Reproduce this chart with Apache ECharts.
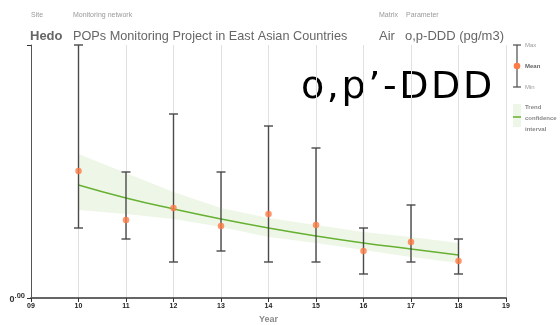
<!DOCTYPE html>
<html>
<head>
<meta charset="utf-8">
<script src="https://cdn.jsdelivr.net/npm/echarts@6/dist/echarts.min.js"></script>
<style>html,body{margin:0;padding:0;background:#fff}#c{width:560px;height:325px}</style>
</head>
<body>
<div id="c"></div>
<script>
var years = [10, 11, 12, 13, 14, 15, 16, 17, 18];
var meanVals = [1.27, 0.78, 0.90, 0.72, 0.84, 0.73, 0.47, 0.56, 0.37];
var minVals  = [0.70, 0.59, 0.36, 0.47, 0.36, 0.36, 0.24, 0.36, 0.24];
var maxVals  = [2.53, 1.26, 1.84, 1.26, 1.72, 1.50, 0.70, 0.93, 0.59];
var trendVals = [1.13, 1.00, 0.89, 0.79, 0.70, 0.62, 0.55, 0.49, 0.43];
var bandUpper = [1.44, 1.25, 1.06, 0.90, 0.80, 0.73, 0.66, 0.61, 0.55];
var bandLower = [0.88, 0.84, 0.79, 0.71, 0.61, 0.55, 0.48, 0.41, 0.35];
var xTickLabels = ['09','10','11','12','13','14','15','16','17','18','19'];

var chart = echarts.init(document.getElementById('c'), null, {renderer: 'canvas'});

var errData = years.map(function (y, i) { return [y, minVals[i], maxVals[i]]; });
var meanData = years.map(function (y, i) { return [y, meanVals[i]]; });
var trendData = years.map(function (y, i) { return [y, trendVals[i]]; });
var bandData = years.map(function (y, i) { return [y, bandLower[i], bandUpper[i]]; });

var bigChars = ['o', ',', 'p', '\u2019', '-', 'D', 'D', 'D'];
var bigText = bigChars.map(function (c, i) { return '{' + (i < bigChars.length - 1 ? 'a' : 'b') + '|' + c + '}'; }).join('');

var gray = '#555';
var option = {
  animation: false,
  grid: {left: 31, right: 54, top: 45, bottom: 27, containLabel: false, outerBoundsMode: 'none'},
  xAxis: {
    type: 'value', min: 9, max: 19, interval: 1,
    name: 'Year', nameLocation: 'middle', nameGap: 16,
    nameTextStyle: {color: '#8a8a8a', fontSize: 9, fontFamily: 'Liberation Sans', fontWeight: 'bold'},
    axisLine: {show: true, lineStyle: {color: '#666', width: 2}},
    axisTick: {show: true, length: 4, lineStyle: {color: '#333', width: 1}},
    axisLabel: {
      color: '#222', fontSize: 7, fontWeight: 'bold', fontFamily: 'Liberation Sans', margin: 5,
      formatter: function (v) { return xTickLabels[Math.round(v) - 9]; }
    },
    splitLine: {show: true, lineStyle: {color: '#e0e0e0', width: 1}}
  },
  yAxis: {
    type: 'value', min: 0, max: 2.53, interval: 2.53,
    axisLine: {show: true, lineStyle: {color: gray, width: 1}},
    axisTick: {show: true, length: 4, lineStyle: {color: '#333'}},
    splitLine: {show: false},
    axisLabel: {
      margin: 6,
      formatter: function (v) { return v === 0 ? '{a|0}{b|.00}' : ''; },
      rich: {
        a: {fontSize: 9, color: '#333', fontFamily: 'Liberation Sans', fontWeight: 'bold', verticalAlign: 'bottom'},
        b: {fontSize: 7.5, color: '#333', fontFamily: 'Liberation Sans', fontWeight: 'bold', padding: [0, 0, 4, 0]}
      }
    }
  },
  series: [
    {
      type: 'custom', data: bandData, z: 1, silent: true,
      renderItem: function (params, api) {
        if (params.dataIndexInside !== 0) return null;
        var n = bandData.length, top = [], bot = [];
        for (var j = 0; j < n; j++) {
          var x = api.value(0, j);
          top.push(api.coord([x, api.value(2, j)]));
          bot.unshift(api.coord([x, api.value(1, j)]));
        }
        return {type: 'polygon', shape: {points: top.concat(bot)}, style: {fill: '#eef7e7'}};
      }
    },
    {
      type: 'line', data: trendData, smooth: true, symbol: 'none',
      lineStyle: {color: '#66b032', width: 1.5}, z: 2
    },
    {
      type: 'custom', data: errData, z: 3,
      renderItem: function (params, api) {
        var x = api.value(0);
        var lo = api.coord([x, api.value(1)]);
        var hi = api.coord([x, api.value(2)]);
        var hw = 4.5;
        var st = {stroke: '#4a4a4a', lineWidth: 1.4};
        return {
          type: 'group',
          children: [
            {type: 'line', shape: {x1: lo[0], y1: lo[1], x2: hi[0], y2: hi[1]}, style: st},
            {type: 'line', shape: {x1: hi[0] - hw, y1: hi[1], x2: hi[0] + hw, y2: hi[1]}, style: st},
            {type: 'line', shape: {x1: lo[0] - hw, y1: lo[1], x2: lo[0] + hw, y2: lo[1]}, style: st}
          ]
        };
      }
    },
    {
      type: 'scatter', data: meanData, symbol: 'circle', symbolSize: 6.5, z: 4,
      itemStyle: {color: '#ff7b45', borderWidth: 0}
    }
  ],
  graphic: [
    {type: 'text', left: 31, top: 12, style: {text: 'Site', fontSize: 7, fill: '#999', fontFamily: 'Liberation Sans'}},
    {type: 'text', left: 73, top: 12, style: {text: 'Monitoring network', fontSize: 7, fill: '#999', fontFamily: 'Liberation Sans'}},
    {type: 'text', left: 379, top: 12, style: {text: 'Matrix', fontSize: 7, fill: '#999', fontFamily: 'Liberation Sans'}},
    {type: 'text', left: 406, top: 12, style: {text: 'Parameter', fontSize: 7, fill: '#999', fontFamily: 'Liberation Sans'}},
    {type: 'text', left: 30, top: 30, style: {text: 'Hedo', fontSize: 13, fontWeight: 'bold', fill: '#666', fontFamily: 'Liberation Sans'}},
    {type: 'text', left: 73, top: 30, style: {text: 'POPs Monitoring Project in East Asian Countries', fontSize: 12.7, fill: '#666', fontFamily: 'Liberation Sans'}},
    {type: 'text', left: 379, top: 30, style: {text: 'Air', fontSize: 13, fill: '#666', fontFamily: 'Liberation Sans'}},
    {type: 'text', left: 405, top: 30, style: {text: 'o,p-DDD (pg/m3)', fontSize: 13, fill: '#666', fontFamily: 'Liberation Sans'}},
    {type: 'text', left: 301, top: 69, style: {
      text: bigText,
      rich: {
        a: {fontSize: 38, fontFamily: 'DejaVu Sans', color: '#000', padding: [0, 2.6, 0, 0]},
        b: {fontSize: 38, fontFamily: 'DejaVu Sans', color: '#000'}
      }
    }},
    // legend
    {type: 'line', shape: {x1: 517, y1: 45, x2: 517, y2: 87}, style: {stroke: '#4a4a4a', lineWidth: 1.2}},
    {type: 'line', shape: {x1: 513, y1: 45, x2: 521, y2: 45}, style: {stroke: '#4a4a4a', lineWidth: 1.2}},
    {type: 'line', shape: {x1: 513, y1: 87, x2: 521, y2: 87}, style: {stroke: '#4a4a4a', lineWidth: 1.2}},
    {type: 'circle', shape: {cx: 517, cy: 66, r: 3.3}, style: {fill: '#ff7b45'}},
    {type: 'text', left: 525, top: 42, style: {text: 'Max', fontSize: 6, fill: '#999', fontFamily: 'Liberation Sans'}},
    {type: 'text', left: 525, top: 63, style: {text: 'Mean', fontSize: 6, fill: '#666', fontWeight: 'bold', fontFamily: 'Liberation Sans'}},
    {type: 'text', left: 525, top: 84, style: {text: 'Min', fontSize: 6, fill: '#999', fontFamily: 'Liberation Sans'}},
    {type: 'rect', shape: {x: 513, y: 104, width: 8, height: 23}, style: {fill: '#eef7e7'}},
    {type: 'line', shape: {x1: 513, y1: 117, x2: 521, y2: 117}, style: {stroke: '#66b032', lineWidth: 1.5}},
    {type: 'text', left: 525, top: 102, style: {text: 'Trend\nconfidence\ninterval', fontSize: 6, lineHeight: 11, fill: '#888', fontWeight: 'bold', fontFamily: 'Liberation Sans'}}
  ]
};
chart.setOption(option);
</script>
</body>
</html>
